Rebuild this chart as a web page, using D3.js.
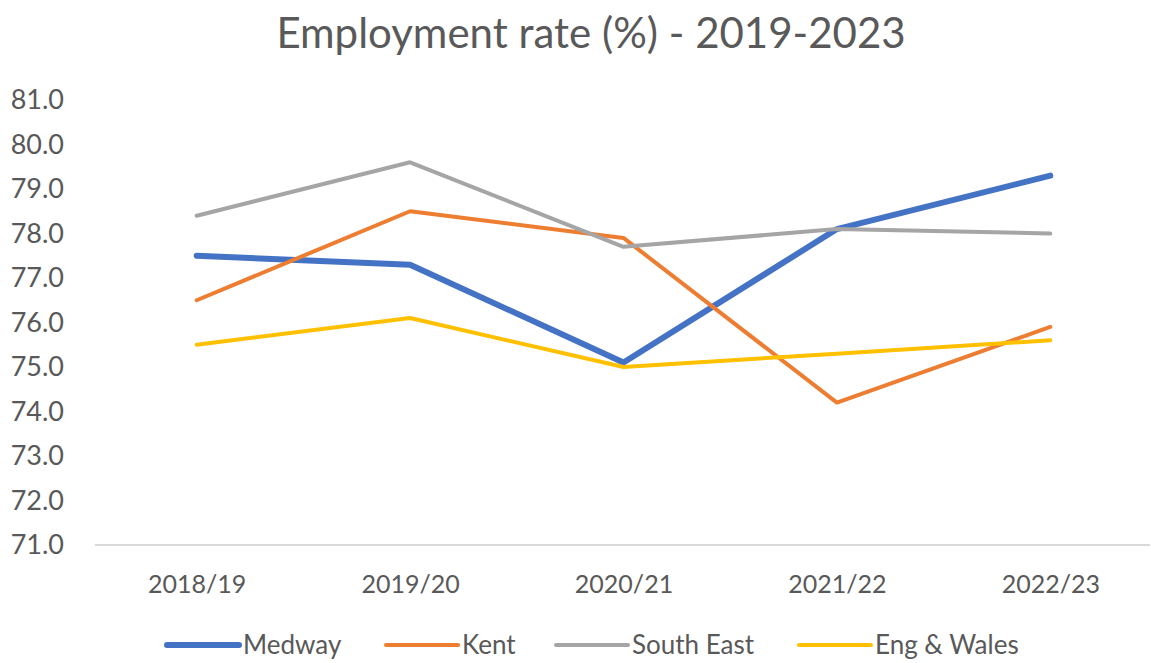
<!DOCTYPE html>
<html><head><meta charset="utf-8">
<script src="https://cdn.jsdelivr.net/npm/d3@7"></script>
<style>
body{margin:0;background:#fff;}
svg{display:block;font-family:Lato,"Open Sans",sans-serif;}
</style></head>
<body><svg id="c" width="1151" height="663"></svg>
<script>
const categories = ["2018/19","2019/20","2020/21","2021/22","2022/23"];
const seriesNames = ["Medway","Kent","South East","Eng & Wales"];
const medway = [77.5,77.3,75.1,78.1,79.3];
const kent = [76.5,78.5,77.9,74.2,75.9];
const southEast = [78.4,79.6,77.7,78.1,78.0];
const engWales = [75.5,76.1,75.0,75.3,75.6];
const yTicks = [71,72,73,74,75,76,77,78,79,80,81];
const colors = ["#4472C4","#ED7D31","#A5A5A5","#FFC000"];
const widths = [6,4,4,4];

const series = [
  {name:seriesNames[0], values:medway},
  {name:seriesNames[1], values:kent},
  {name:seriesNames[2], values:southEast},
  {name:seriesNames[3], values:engWales}
];

const svg = d3.select("#c");
const x = d3.scalePoint().domain(categories).range([90,1157]).padding(0.5);
const y = d3.scaleLinear().domain([71,81]).range([545,100]);

svg.append("text").attr("x",591).attr("y",48).attr("text-anchor","middle")
  .attr("font-size",42).attr("fill","#595959").text("Employment rate (%) - 2019-2023");

const ya = svg.append("g").attr("transform","translate(64,0)")
  .call(d3.axisLeft(y).tickValues(yTicks).tickFormat(d3.format(".1f")).tickSize(0).tickPadding(0));
ya.select(".domain").remove();
ya.selectAll("text").attr("font-size",27).attr("fill","#595959").attr("font-family","Lato,'Open Sans',sans-serif");

const xa = svg.append("g").attr("transform","translate(0,545)")
  .call(d3.axisBottom(x).tickSize(0).tickPadding(30));
xa.select(".domain").attr("stroke","#d9d9d9").attr("stroke-width",2).attr("d","M95,0H1150");
xa.selectAll("text").attr("font-size",25).attr("fill","#595959").attr("font-family","Lato,'Open Sans',sans-serif");

const line = d3.line().x((d,i)=>x(categories[i])).y(d=>y(d));
series.forEach((s,i)=>{
  svg.append("path").datum(s.values).attr("d",line).attr("fill","none")
    .attr("stroke",colors[i]).attr("stroke-width",widths[i])
    .attr("stroke-linejoin","round").attr("stroke-linecap","round");
});

const legX = [167,386,556,799];
const lg = svg.append("g");
series.forEach((s,i)=>{
  const g = lg.append("g").attr("transform",`translate(${legX[i]},645)`);
  g.append("line").attr("x1",0).attr("x2",72).attr("stroke",colors[i]).attr("stroke-width",widths[i]).attr("stroke-linecap","round");
  g.append("text").attr("x",76).attr("y",9).attr("font-size",26).attr("fill","#595959").text(s.name);
});
</script></body></html>
